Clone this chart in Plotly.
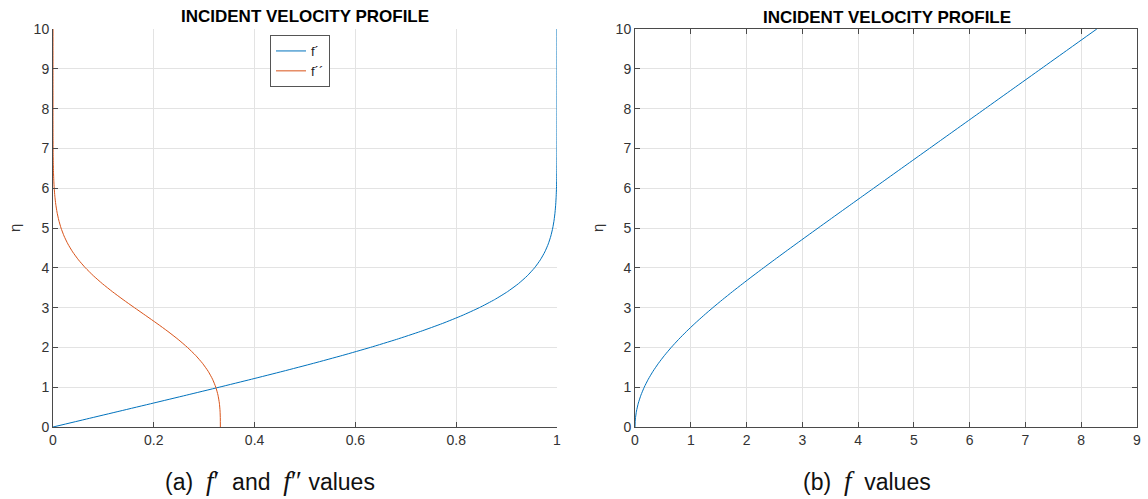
import plotly.graph_objects as go

# Blasius similarity solution values (eta, f, f', f'')
eta = [0.0, 0.2, 0.4, 0.6, 0.8, 1.0, 1.2, 1.4, 1.6, 1.8, 2.0, 2.2, 2.4, 2.6, 2.8,
       3.0, 3.2, 3.4, 3.6, 3.8, 4.0, 4.2, 4.4, 4.6, 4.8, 5.0, 5.2, 5.4, 5.6, 5.8,
       6.0, 6.2, 6.4, 6.6, 6.8, 7.0, 7.2, 7.4, 7.6, 7.8, 8.0, 8.5, 9.0, 9.5, 10.0]
f = [0.0, 0.00664, 0.02656, 0.05974, 0.10611, 0.16557, 0.23795, 0.32298, 0.42032,
     0.52952, 0.65003, 0.78120, 0.92230, 1.07252, 1.23099, 1.39682, 1.56911,
     1.74696, 1.92954, 2.11605, 2.30576, 2.49806, 2.69238, 2.88826, 3.08534,
     3.28329, 3.48189, 3.68094, 3.88031, 4.07990, 4.27964, 4.47948, 4.67938,
     4.87931, 5.07928, 5.27926, 5.47925, 5.67924, 5.87924, 6.07923, 6.27923,
     6.77923, 7.27923, 7.77923, 8.27923]
fp = [0.0, 0.06641, 0.13277, 0.19894, 0.26471, 0.32979, 0.39378, 0.45627, 0.51676,
      0.57477, 0.62977, 0.68132, 0.72899, 0.77246, 0.81152, 0.84605, 0.87609,
      0.90177, 0.92333, 0.94112, 0.95552, 0.96696, 0.97587, 0.98269, 0.98779,
      0.99155, 0.99425, 0.99616, 0.99748, 0.99838, 0.99898, 0.99937, 0.99961,
      0.99977, 0.99987, 0.99992, 0.99996, 0.99998, 0.99999, 1.0, 1.0, 1.0, 1.0,
      1.0, 1.0]
fpp = [0.33206, 0.33199, 0.33147, 0.33008, 0.32739, 0.32301, 0.31659, 0.30787,
       0.29667, 0.28293, 0.26675, 0.24835, 0.22809, 0.20646, 0.18401, 0.16136,
       0.13913, 0.11788, 0.09809, 0.08013, 0.06424, 0.05052, 0.03897, 0.02948,
       0.02187, 0.01591, 0.01134, 0.00793, 0.00543, 0.00365, 0.00240, 0.00155,
       0.00098, 0.00061, 0.00037, 0.00022, 0.00013, 0.00007, 0.00004, 0.00002,
       0.00001, 0.0, 0.0, 0.0, 0.0]

xticks_a = [0, 0.2, 0.4, 0.6, 0.8, 1]
xticks_b = list(range(0, 10))
yticks = list(range(0, 11))

BLUE = "#0072BD"
ORANGE = "#D95319"
W, H = 1148, 499
FONT = "Liberation Sans, Arial, Helvetica, sans-serif"
AX = "#4a4a4a"
GRID = "#e3e3e3"

fig = go.Figure()
fig.add_trace(go.Scatter(x=fp, y=eta, mode="lines", name="f´",
                         line=dict(color=BLUE, width=1, shape="spline", smoothing=0.5),
                         xaxis="x", yaxis="y"))
fig.add_trace(go.Scatter(x=fpp, y=eta, mode="lines", name="f´´",
                         line=dict(color=ORANGE, width=1, shape="spline", smoothing=0.5),
                         xaxis="x", yaxis="y"))
fig.add_trace(go.Scatter(x=f, y=eta, mode="lines", name="f", showlegend=False,
                         line=dict(color=BLUE, width=1, shape="spline", smoothing=0.5),
                         xaxis="x2", yaxis="y2"))

def px_x(p):
    return p / W

def px_y(p):
    return 1 - p / H

ydom = [px_y(427), px_y(29)]
common = dict(showgrid=True, gridcolor=GRID, gridwidth=1, zeroline=False,
              ticks="inside", ticklen=5, tickcolor=AX, showline=True,
              linecolor=AX, linewidth=1, automargin=False,
              tickfont=dict(family=FONT, size=14, color="#333333"))

fig.update_layout(
    template="none",
    width=W, height=H,
    margin=dict(l=0, r=0, t=0, b=0, pad=0, autoexpand=False),
    paper_bgcolor="white", plot_bgcolor="white",
    showlegend=True,
    legend=dict(x=px_x(270), y=px_y(35), xanchor="left", yanchor="top",
                bordercolor="#555555", borderwidth=1, bgcolor="white",
                font=dict(family=FONT, size=13, color="#222222"),
                tracegroupgap=0, itemwidth=30),
    xaxis=dict(domain=[px_x(53), px_x(557)], range=[0, 1], tickvals=xticks_a,
               ticktext=["0", "0.2", "0.4", "0.6", "0.8", "1"], anchor="y",
               mirror=False, **common),
    yaxis=dict(domain=ydom, range=[0, 10], tickvals=yticks, anchor="x",
               mirror=False, **common),
    xaxis2=dict(domain=[px_x(635), px_x(1137)], range=[0, 9], tickvals=xticks_b,
                anchor="y2", mirror="ticks", **common),
    yaxis2=dict(domain=ydom, range=[0, 10], tickvals=yticks, anchor="x2",
                mirror="ticks", **common),
)

def note(x, y, text, size, color="#333333", angle=0):
    return dict(x=px_x(x), y=px_y(y), text=text, textangle=angle,
                showarrow=False, xref="paper", yref="paper",
                xanchor="center", yanchor="middle",
                font=dict(family=FONT, size=size, color=color))

serif = "font-family:Liberation Serif, Times New Roman, serif;font-size:27px"
sp = "&nbsp;"
ann = [
    note(305, 16, "<b>INCIDENT VELOCITY PROFILE</b>", 17, "#000000"),
    note(887, 17, "<b>INCIDENT VELOCITY PROFILE</b>", 17, "#000000"),
    note(14, 228, "η", 15, angle=-90),
    note(597, 228, "η", 15, angle=-90),
    note(270, 481, f"(a){sp}{sp}<span style='{serif}'><i>f</i>′</span>{sp}{sp}and{sp}{sp}"
                   f"<span style='{serif}'><i>f</i>″</span>{sp}values", 23, "#111111"),
    note(867, 481, f"(b){sp}{sp}<span style='{serif}'><i>f</i></span>{sp}{sp}values", 23, "#111111"),
]
fig.update_layout(annotations=ann)

fig.write_html("out.html")
